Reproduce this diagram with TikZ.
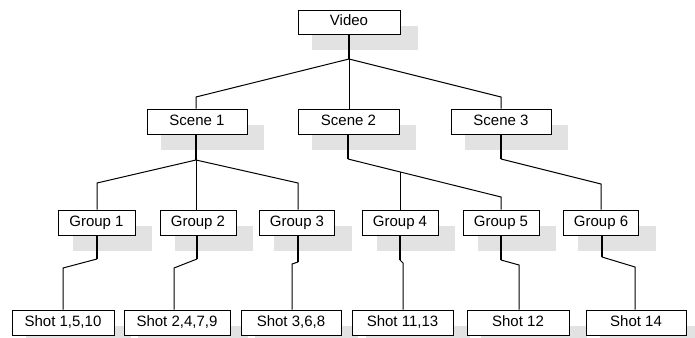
\documentclass[tikz,border=0pt]{standalone}
\usepackage{fontspec}
\setmainfont{Liberation Sans}
\usetikzlibrary{shadows}
\definecolor{shade}{HTML}{E2E2E2}
\begin{document}
\begin{tikzpicture}[x=1pt,y=-1pt,
  box/.style={draw=black,line width=0.9pt,fill=white,minimum height=25pt,inner sep=0pt,
    text height=10.5pt,text depth=3pt,font=\fontsize{15}{17}\selectfont,
    general shadow={fill=shade,shadow xshift=15.5pt,shadow yshift=-15.5pt,shadow scale=1.03}},
  conn/.style={line width=1pt,line join=miter},
  stem/.style={line width=2pt}]
\useasboundingbox (0,0) rectangle (695,337);
% nodes
\node[box,minimum width=102pt,minimum height=24pt] (video) at (349,22) {Video};
\node[box,minimum width=100pt] (s1) at (197,121.5) {Scene 1};
\node[box,minimum width=101pt] (s2) at (348.5,121.5) {Scene 2};
\node[box,minimum width=100pt] (s3) at (501,121.5) {Scene 3};
\node[box,minimum width=77pt] (g1) at (96.5,222.5) {Group 1};
\node[box,minimum width=76pt] (g2) at (198,222.5) {Group 2};
\node[box,minimum width=75pt] (g3) at (297,222.5) {Group 3};
\node[box,minimum width=76pt] (g4) at (400,222.5) {Group 4};
\node[box,minimum width=76pt] (g5) at (501,222.5) {Group 5};
\node[box,minimum width=75pt] (g6) at (601,222.5) {Group 6};
\node[box,minimum width=102pt] (h1) at (63,322.5) {Shot 1,5,10};
\node[box,minimum width=106pt] (h2) at (177,322.5) {Shot 2,4,7,9};
\node[box,minimum width=100pt] (h3) at (291,322.5) {Shot 3,6,8};
\node[box,minimum width=101pt] (h4) at (402.5,322.5) {Shot 11,13};
\node[box,minimum width=102pt] (h5) at (518,322.5) {Shot 12};
\node[box,minimum width=100pt] (h6) at (636,322.5) {Shot 14};
% junctions and bends
\coordinate (jv) at (349,59);
\coordinate (b1) at (196,97);
\coordinate (b3) at (501,97);
\coordinate (j1) at (196,160);
\coordinate (c1) at (97,183);
\coordinate (c3) at (298,183);
\coordinate (j2) at (348,159);
\coordinate (c5) at (501,197);
\coordinate (c4) at (400,172);
\coordinate (j3) at (501,159);
\coordinate (c6) at (601,184);
% video -> scenes
\draw[stem] (video.south) -- (jv);
\draw[conn] (jv) -- (b1) -- (b1 |- s1.north);
\draw[conn] (jv) -- (jv |- s2.north);
\draw[conn] (jv) -- (b3) -- (b3 |- s3.north);
% scene 1 -> groups
\draw[stem] (s1.south -| j1) -- (j1);
\draw[conn] (j1) -- (c1) -- (c1 |- g1.north);
\draw[conn] (j1) -- (j1 |- g2.north);
\draw[conn] (j1) -- (c3) -- (c3 |- g3.north);
% scene 2 -> groups
\draw[stem] (s2.south -| j2) -- (j2);
\draw[conn] (j2) -- (c5) -- (c5 |- g5.north);
\draw[conn] (g4.north) -- (c4);
% scene 3 -> group
\draw[stem] (s3.south -| j3) -- (j3);
\draw[conn] (j3) -- (c6) -- (c6 |- g6.north);
% groups -> shots
\coordinate (d1) at (97,259);  \coordinate (e1) at (63,268);
\coordinate (d2) at (197,259); \coordinate (e2) at (174,268);
\coordinate (d3) at (298,262); \coordinate (e3) at (292,264);
\coordinate (d4) at (400,260); \coordinate (e4) at (403,263);
\coordinate (d5) at (501,260); \coordinate (e5) at (519,265);
\coordinate (d6) at (602,257); \coordinate (e6) at (635,267);
\foreach \i in {1,...,6}{
  \draw[stem] (g\i.south -| d\i) -- (d\i);
  \draw[conn] (d\i) -- (e\i) -- (e\i |- h\i.north);
}
\end{tikzpicture}
\end{document}
